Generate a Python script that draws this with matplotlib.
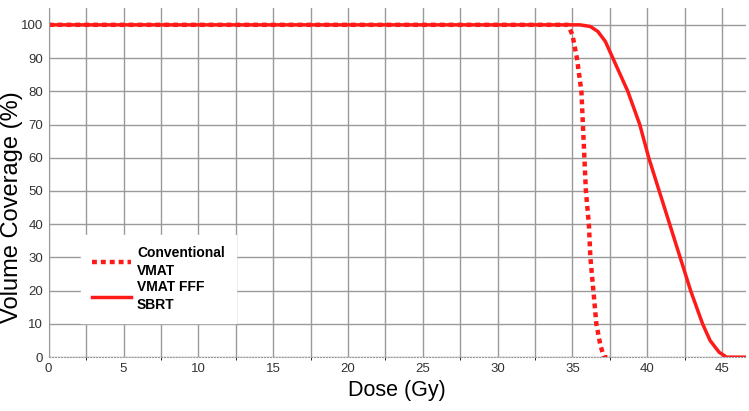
import matplotlib.pyplot as plt
from matplotlib.ticker import MultipleLocator

plt.rcParams['font.family'] = ['Liberation Sans', 'DejaVu Sans']

# Conventional VMAT (dotted)
conv_dose = [0, 34.7, 35.0, 35.3, 35.6, 35.7, 35.8, 35.9, 36.1, 36.2, 36.4, 36.6, 36.85, 37.1, 37.5]
conv_vol = [100, 100, 97, 90, 80, 70, 60, 50, 40, 30, 20, 10, 4, 0, 0]

# VMAT FFF SBRT (solid)
sbrt_dose = [0, 35.5, 36.2, 36.7, 37.2, 37.7, 38.7, 39.5, 40.1, 40.8, 41.5, 42.2, 42.9, 43.7, 44.2, 44.8, 45.3, 46.5]
sbrt_vol = [100, 100, 99.5, 98, 95, 90, 80, 70, 60, 50, 40, 30, 20, 10, 5, 1.5, 0, 0]

fig = plt.figure(figsize=(7.49, 4.11), dpi=100)
ax = fig.add_axes([0.065, 0.131, 0.931, 0.849])

ax.plot(conv_dose, conv_vol, color='#ff1a1a', lw=3.2, linestyle=(0, (1.1, 0.9)), label='Conventional\nVMAT')
ax.plot(sbrt_dose, sbrt_vol, color='#ff1a1a', lw=2.5, label='VMAT FFF\nSBRT')

ax.set_xlim(0, 46.6)
ax.set_ylim(0, 105)
ax.xaxis.set_major_locator(MultipleLocator(5))
ax.xaxis.set_minor_locator(MultipleLocator(2.5))
ax.yaxis.set_major_locator(MultipleLocator(10))
ax.grid(True, which='both', axis='x', color='#9a9a9a', lw=1)
ax.grid(True, which='major', axis='y', color='#9a9a9a', lw=1)
ax.set_axisbelow(True)

for s in ['top', 'right']:
    ax.spines[s].set_visible(False)
ax.spines['left'].set_color('#9a9a9a')
ax.spines['bottom'].set_color('#9a9a9a')
ax.spines['bottom'].set_linestyle(':')
ax.tick_params(length=0, labelsize=9.5, colors='#333333', pad=4)

ax.set_xlabel('Dose (Gy)', fontsize=15.5, labelpad=4)
ax.set_ylabel('Volume Coverage (%)', fontsize=17)
ax.yaxis.set_label_coords(-0.037, 0.43)

leg = ax.legend(loc='lower left', bbox_to_anchor=(0.046, 0.097), borderaxespad=0,
                frameon=True, prop={'weight': 'bold', 'size': 10}, handlelength=2.8,
                handletextpad=0.45, labelspacing=0.2, borderpad=0.8, fancybox=False)
for t in leg.get_texts():
    t.set_linespacing(1.35)
leg.get_frame().set_facecolor('white')
leg.get_frame().set_edgecolor('white')
leg.get_frame().set_alpha(1)

plt.savefig('out.png', dpi=100)
